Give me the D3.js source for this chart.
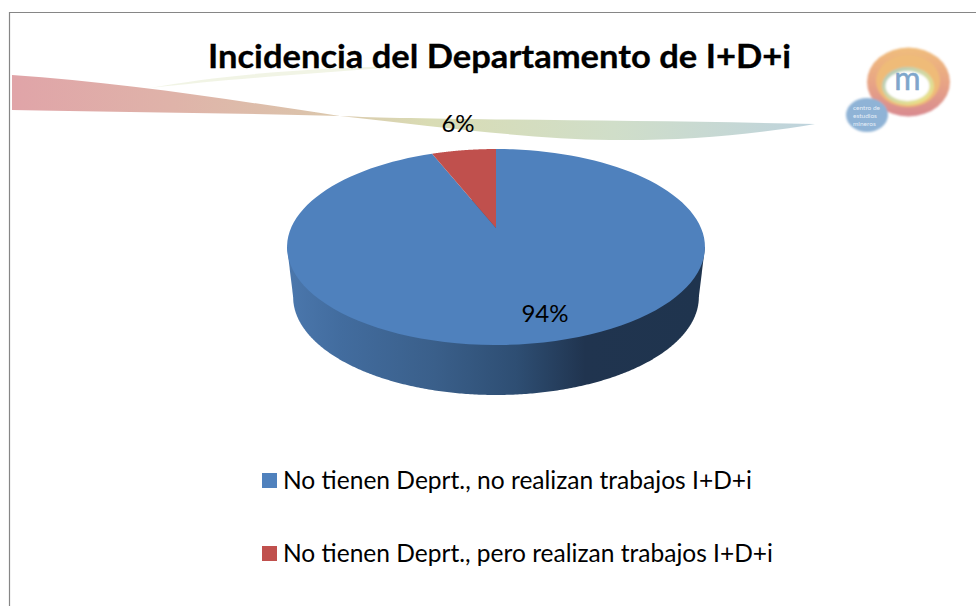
<!DOCTYPE html>
<html><head><meta charset="utf-8">
<script src="https://cdn.jsdelivr.net/npm/d3@7/dist/d3.min.js"></script>
<style>html,body{margin:0;padding:0;background:#fff;overflow:hidden}svg{display:block}text{font-family:Lato,"Open Sans",sans-serif}</style>
</head><body><div id="c"></div>
<script>
const titleText = "Incidencia del Departamento de I+D+i";
const categories = ["No tienen Deprt., no realizan trabajos I+D+i","No tienen Deprt., pero realizan trabajos I+D+i"];
const values = [94, 6];
const labels = ["94%", "6%"];
const colors = ["#4f81bd", "#c0504d"];
const logoLines = ["centro de", "estudios", "mineros"];

const W = 976, H = 606;
const svg = d3.select("#c").append("svg").attr("width", W).attr("height", H);
const defs = svg.append("defs");

function lin(id, stops, x2 = 1, y2 = 0) {
  const g = defs.append("linearGradient").attr("id", id).attr("x1", 0).attr("x2", x2).attr("y1", 0).attr("y2", y2);
  stops.forEach(s => g.append("stop").attr("offset", s[0]).attr("stop-color", s[1]));
  return g;
}
lin("ribbon", [[0, "#e0a4a8"], [0.2, "#dfb3a9"], [0.36, "#dcc2ab"], [0.52, "#d9dcb4"], [0.75, "#d0dec9"], [1, "#bed3dd"]]);
lin("logoOuter", [[0, "#f0bd7c"], [0.5, "#e8a585"], [1, "#d88a90"]], 0, 1);
lin("logoInner", [[0, "#a9c7c2"], [0.45, "#cfd8a8"], [1, "#f2e37e"]], 1, 1);
defs.append("filter").attr("id", "soft").append("feGaussianBlur").attr("stdDeviation", 0.8);

// frame
svg.append("path").attr("d", `M9.5 ${H}V12.5H${W}`).attr("fill", "none").attr("stroke", "#868686").attr("stroke-width", 1.2);

// ribbon decoration
const deco = svg.append("g");
deco.append("path").attr("d", "M150 88C215 76 300 68 410 66C330 72 230 79 150 88Z").attr("fill", "#eef1df").attr("opacity", 0.8);
deco.append("path")
  .attr("d", "M12 75C120 82 240 101 340 116C420 120 650 120 815 124C750 135 680 141 610 140C530 139 440 127 340 116C240 113 110 112 12 110Z")
  .attr("fill", "url(#ribbon)");

// logo
const logo = svg.append("g").attr("filter", "url(#soft)");
logo.append("ellipse").attr("cx", 908.5).attr("cy", 82).attr("rx", 41.5).attr("ry", 34.5).attr("fill", "url(#logoOuter)");
logo.append("ellipse").attr("cx", 908).attr("cy", 81).attr("rx", 32).attr("ry", 26).attr("fill", "#efbb78");
logo.append("ellipse").attr("cx", 908).attr("cy", 86).attr("rx", 26).attr("ry", 19).attr("fill", "url(#logoInner)");
logo.append("ellipse").attr("cx", 907.5).attr("cy", 86).attr("rx", 22).attr("ry", 15).attr("fill", "#fff");
logo.append("ellipse").attr("cx", 867).attr("cy", 115).attr("rx", 21).attr("ry", 17).attr("fill", "#8fb3d6");
svg.append("text").attr("x", 907.5).attr("y", 90).attr("text-anchor", "middle").attr("font-size", 32).attr("fill", "#7fa6cb").attr("stroke", "#7fa6cb").attr("stroke-width", 0.5).text("m");
logoLines.forEach((t, i) => {
  svg.append("text").attr("x", 853).attr("y", 110 + i * 8).attr("font-size", 6.5).attr("fill", "#e6eef6").text(t);
});

// title
svg.append("text").attr("x", 208).attr("y", 68).attr("font-size", 32).attr("font-weight", 700).attr("fill", "#000")
  .attr("stroke", "#000").attr("stroke-width", 0.3)
  .attr("textLength", 583).attr("lengthAdjust", "spacingAndGlyphs").text(titleText);

// 3D pie: unit disc projected in perspective
const k = -0.194;
function project(a, r, c) {
  const x = r * Math.sin(a), y = -r * Math.cos(a), w = 1 + k * y;
  return [c.cx + c.sx * x / w, c.cy + c.sy * y / w];
}
const topFace = { cx: 496, cy: 228, sx: 205, sy: 94.3, mid: 247 };
const botFace = { cx: 496, cy: 278, sx: 199, sy: 94.3, mid: 297 };
const line = d3.line();
const steps = a => d3.range(0, 121).map(i => a.startAngle + (a.endAngle - a.startAngle) * i / 120);
const pie = d3.pie().sort(null)(values);

const ring = c => d3.range(0, 721).map(i => project(i / 720 * 2 * Math.PI, 1, c));
const extremeTop = d3.extent(ring(topFace), p => p[0]);
const extremeBot = d3.extent(ring(botFace), p => p[0]);
// wall
lin("wallU", [[0, "#4a76ab"], [0.12, "#426c9e"], [0.35, "#3a5f8a"], [0.55, "#2e4e73"], [0.72, "#20344f"], [1, "#1f344e"]])
  .attr("gradientUnits", "userSpaceOnUse")
  .attr("x1", extremeBot[0]).attr("x2", extremeBot[1]).attr("y1", 0).attr("y2", 0);
svg.append("path").attr("d", line(ring(botFace)) + "Z").attr("fill", "url(#wallU)");
svg.append("path")
  .attr("d", line([[extremeTop[0], topFace.mid], [extremeTop[1], topFace.mid], [extremeBot[1], botFace.mid], [extremeBot[0], botFace.mid]]) + "Z")
  .attr("fill", "url(#wallU)");
// top faces
svg.append("g").selectAll("path").data(pie).join("path")
  .attr("fill", (d, i) => colors[i])
  .attr("d", d => line([[topFace.cx, topFace.cy], ...steps(d).map(a => project(a, 1, topFace))]) + "Z");

// data labels
const labelPos = [[545, 322], [458, 132]];
svg.append("g").selectAll("text").data(labels).join("text")
  .attr("x", (d, i) => labelPos[i][0]).attr("y", (d, i) => labelPos[i][1])
  .attr("text-anchor", "middle").attr("font-size", 24).attr("fill", "#000").text(d => d);

// legend
const legendY = [480.5, 553.5];
const lw = [469, 490];
const lg = svg.append("g").selectAll("g").data(categories).join("g");
lg.append("rect").attr("x", 262).attr("y", (d, i) => legendY[i] - 7.5).attr("width", 15).attr("height", 15).attr("fill", (d, i) => colors[i]);
lg.append("text").attr("x", 283).attr("y", (d, i) => legendY[i] + 8).attr("font-size", 25).attr("fill", "#000")
  .attr("textLength", (d, i) => lw[i]).attr("lengthAdjust", "spacingAndGlyphs").text(d => d);
</script></body></html>
